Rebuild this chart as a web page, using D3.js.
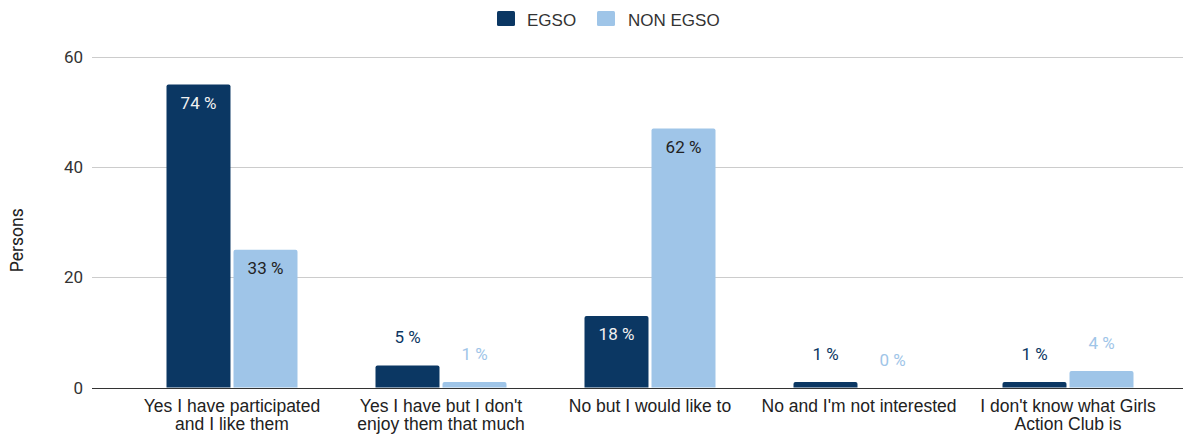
<!DOCTYPE html>
<html>
<head>
<meta charset="utf-8">
<script src="https://cdn.jsdelivr.net/npm/d3@7"></script>
<style>
  html, body { margin: 0; padding: 0; background: #fff; }
  svg { display: block; }
</style>
</head>
<body>
<svg id="chart" width="1203" height="434"></svg>
<script>
const categories = [
  ["Yes I have participated", "and I like them"],
  ["Yes I have but I don't", "enjoy them that much"],
  ["No but I would like to"],
  ["No and I'm not interested"],
  ["I don't know what Girls", "Action Club is"]
];
const seriesNames = ["EGSO", "NON EGSO"];
const egsoValues = [55, 4, 13, 1, 1];
const nonEgsoValues = [25, 1, 47, 0, 3];
const egsoLabels = ["74 %", "5 %", "18 %", "1 %", "1 %"];
const nonEgsoLabels = ["33 %", "1 %", "62 %", "0 %", "4 %"];
const yTicks = [0, 20, 40, 60];
const axisTitle = "Persons";

const colors = { "EGSO": "#0b3763", "NON EGSO": "#9fc5e8" };
const insideText = { "EGSO": "#f1f1f1", "NON EGSO": "#222222" };

const svg = d3.select("#chart");
const gridLeft = 92, gridRight = 1183;
const plotLeft = 127.5, plotRight = 1172.5;
const yTop = 57, yBottom = 387.5;

const y = d3.scaleLinear().domain([0, 60]).range([yBottom, yTop]);
const catIdx = categories.map((c, i) => i);
const x0 = d3.scaleBand().domain(catIdx).range([plotLeft, plotRight]).padding(0);
const groupInner = 131;
const x1 = d3.scaleBand().domain(seriesNames)
  .range([(x0.bandwidth() - groupInner) / 2, (x0.bandwidth() + groupInner) / 2])
  .paddingInner(0.045);

// gridlines
const grid = svg.append("g");
grid.selectAll("line").data(yTicks).join("line")
  .attr("x1", gridLeft).attr("x2", gridRight)
  .attr("y1", d => Math.round(y(d)) + 0.5).attr("y2", d => Math.round(y(d)) + 0.5)
  .attr("stroke", d => d === 0 ? "#333333" : "#cccccc")
  .attr("stroke-width", 1);

// y tick labels
svg.append("g").selectAll("text").data(yTicks).join("text")
  .attr("x", 83).attr("y", d => y(d) + 6)
  .attr("text-anchor", "end")
  .attr("font-family", "Roboto, sans-serif")
  .attr("font-size", 17)
  .attr("fill", "#333")
  .text(d => d);

// axis title
svg.append("text")
  .attr("transform", `translate(23, ${(yTop + yBottom) / 2 + 18}) rotate(-90)`)
  .attr("text-anchor", "middle")
  .attr("font-family", "Roboto, sans-serif")
  .attr("font-size", 17.5)
  .attr("fill", "#222")
  .text(axisTitle);

// bars data
const rows = [];
catIdx.forEach(i => {
  rows.push({ cat: i, s: "EGSO", v: egsoValues[i], label: egsoLabels[i] });
  rows.push({ cat: i, s: "NON EGSO", v: nonEgsoValues[i], label: nonEgsoLabels[i] });
});

function barPath(x, w, top, bottom) {
  const h = bottom - top;
  if (h <= 0) return "";
  const r = Math.min(2, h, w / 2);
  return `M${x},${bottom} L${x},${top + r} Q${x},${top} ${x + r},${top} L${x + w - r},${top} Q${x + w},${top} ${x + w},${top + r} L${x + w},${bottom} Z`;
}

svg.append("g").selectAll("path").data(rows).join("path")
  .attr("d", d => {
    const bx = x0(d.cat) + x1(d.s);
    return barPath(bx, x1.bandwidth(), y(d.v), y(0));
  })
  .attr("fill", d => colors[d.s]);

// data labels
svg.append("g").selectAll("text").data(rows).join("text")
  .attr("x", d => x0(d.cat) + x1(d.s) + x1.bandwidth() / 2)
  .attr("y", d => {
    const hgt = y(0) - y(d.v);
    return hgt > 40 ? y(d.v) + 24.5 : y(d.v) - 22;
  })
  .attr("text-anchor", "middle")
  .attr("font-family", "Roboto, sans-serif")
  .attr("font-size", 17)
  .attr("fill", d => (y(0) - y(d.v)) > 40 ? insideText[d.s] : colors[d.s])
  .text(d => d.label);

// x axis labels
const xl = svg.append("g").selectAll("text").data(catIdx).join("text")
  .attr("text-anchor", "middle")
  .attr("font-family", "'Liberation Sans', Arial, sans-serif")
  .attr("font-size", 17.5)
  .attr("fill", "#222");
xl.each(function(i) {
  const t = d3.select(this);
  categories[i].forEach((line, k) => {
    t.append("tspan")
      .attr("x", x0(i) + x0.bandwidth() / 2)
      .attr("y", 411.5 + k * 18.5)
      .text(line);
  });
});

// legend
const legendItems = [
  { name: seriesNames[0], sx: 497, tx: 527 },
  { name: seriesNames[1], sx: 597, tx: 628 }
];
const lg = svg.append("g");
lg.selectAll("rect").data(legendItems).join("rect")
  .attr("x", d => d.sx).attr("y", 11)
  .attr("width", 18).attr("height", 15)
  .attr("rx", 1.5)
  .attr("fill", d => colors[d.name]);
lg.selectAll("text").data(legendItems).join("text")
  .attr("x", d => d.tx).attr("y", 25.5)
  .attr("font-family", "'Liberation Sans', Arial, sans-serif")
  .attr("font-size", 17)
  .attr("fill", "#333")
  .text(d => d.name);
</script>
</body>
</html>
